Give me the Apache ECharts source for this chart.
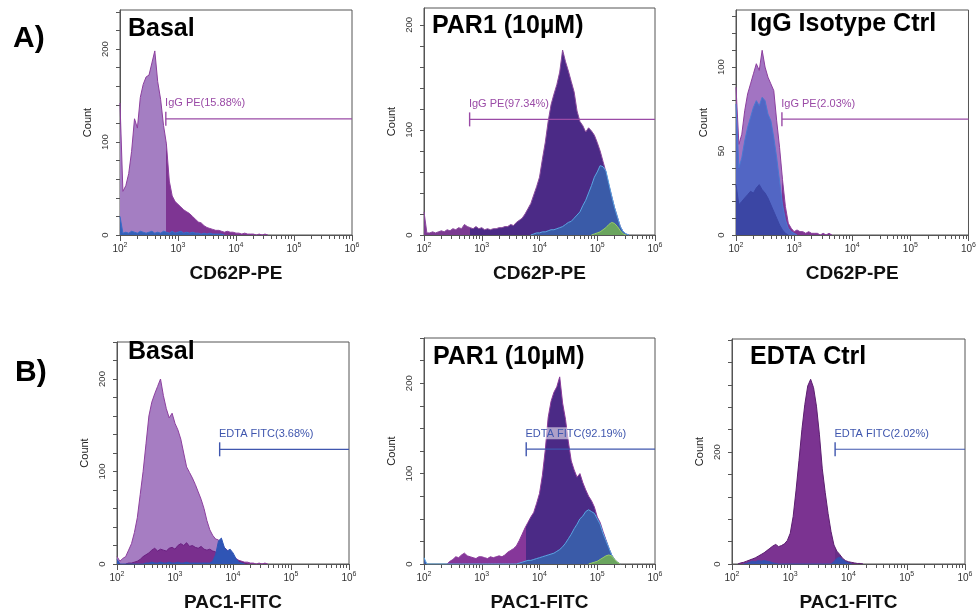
<!DOCTYPE html>
<html><head><meta charset="utf-8">
<script src="https://cdn.jsdelivr.net/npm/echarts@6/dist/echarts.min.js"></script>
<style>html,body{margin:0;padding:0;background:#fff}#c{width:979px;height:613px}</style>
</head><body><div id="c"></div>
<script>
// ---------- channel grid (log10 of fluorescence) ----------
const channels = [
 2.00,2.05,2.10,2.15,2.20,2.25,2.30,2.35,2.40,2.45,
 2.50,2.55,2.60,2.65,2.70,2.75,2.80,2.85,2.90,2.95,
 3.00,3.05,3.10,3.15,3.20,3.25,3.30,3.35,3.40,3.45,
 3.50,3.55,3.60,3.65,3.70,3.75,3.80,3.85,3.90,3.95,
 4.00,4.05,4.10,4.15,4.20,4.25,4.30,4.35,4.40,4.45,
 4.50,4.55,4.60,4.65,4.70,4.75,4.80,4.85,4.90,4.95,
 5.00,5.05,5.10,5.15,5.20,5.25,5.30,5.35,5.40,5.45,
 5.50,5.55,5.60,5.65,5.70,5.75,5.80,5.85,5.90,5.95,
 6.00];
const decades = [2,3,4,5,6];
const minorMultipliers = [2,3,4,5,6,7,8,9];

// ---------- A) CD62P-PE ----------
const a1Basal = [
 142,47,53,66,90,125,115,148,162,170,
 172,185,198,165,146,118,98,58,42,36,
 33,30,27,25,23,20,17,14,13,10,
 8,7,6,5,5,4,3,4,3,3,
 2,2,1,2,1,1,1,0,1,0,
 1,0];
const a1Blue = [
 20,2,3,2,4,3,2,4,3,2,
 3,4,2,3,2,4,3,2,4,2,
 3,4,2,3,2,3,2,2,1,2,
 1,2,1,1,1,1,0];
const a2Par1 = [
 22,2,2,3,2,3,4,3,5,4,
 6,5,7,6,10,8,7,6,8,6,
 7,5,6,5,6,6,7,7,8,8,
 10,9,12,14,16,20,25,30,38,46,
 55,72,88,108,124,134,143,155,176,165,
 156,146,136,118,108,104,98,102,99,95,
 88,80,70,60,48,37,26,17,8,3,
 1,0];
const a2Blue = [
 0,0,0,0,0,0,0,0,0,0,
 0,0,0,0,0,0,0,0,0,0,
 0,0,0,0,0,0,0,0,0,0,
 0,0,0,0,0,0,0,0,1,2,
 2,3,3,4,5,5,6,7,8,10,
 12,13,16,19,22,28,33,40,47,55,
 60,66,65,61,49,37,26,17,8,3,
 1,0];
const a2Green = [
 0,0,0,0,0,0,0,0,0,0,
 0,0,0,0,0,0,0,0,0,0,
 0,0,0,0,0,0,0,0,0,0,
 0,0,0,0,0,0,0,0,0,0,
 0,0,0,0,0,0,0,0,0,0,
 0,0,0,0,0,0,0,0,0,1,
 2,3,5,7,10,12,11,8,4,1,
 0];
const a3Iso = [
 88,54,60,74,84,90,96,102,98,110,
 100,94,90,86,68,52,33,17,7,4,
 2,3,2,2,1,2,1,1,1,0,
 1,0,1,0];
const a3Blue = [
 78,40,46,56,64,70,76,80,77,82,
 80,72,68,58,46,32,18,9,4,2,
 1,0];
const a3DarkBlue = [
 30,18,20,22,24,26,25,28,30,27,
 25,22,18,14,10,6,3,1,0];

// ---------- B) PAC1-FITC ----------
const b1Basal = [
 8,3,6,8,15,22,34,50,75,100,
 130,160,175,184,192,200,182,168,158,163,
 152,145,135,120,105,99,93,86,78,70,
 60,47,37,31,27,26,22,18,15,12,
 9,6,4,3,2,2,1,1,0,1,
 0,1,0];
const b1Dark = [
 0,0,0,0,1,1,2,3,5,8,
 10,12,15,17,14,16,15,14,17,18,
 16,20,22,20,23,19,20,18,17,19,
 16,15,16,14,13,12,11,10,9,8,
 7,5,3,2,1,0];
const b1Blue = [
 5,0,0,0,0,0,0,0,0,0,
 1,1,2,1,1,2,1,1,2,1,
 1,2,1,1,2,1,1,1,1,1,
 1,1,1,3,10,25,28,18,14,16,
 12,6,2,1,0];
const b2Par1 = [
 0,0,0,0,0,0,0,0,0,3,
 5,8,7,10,12,9,8,7,6,8,
 8,7,6,8,7,8,9,8,10,13,
 15,17,20,26,33,40,46,52,57,67,
 78,98,126,162,180,190,196,207,178,160,
 135,114,104,96,100,90,82,75,70,63,
 52,46,36,27,18,10,5,2,0];
const b2Blue = [
 7,0,0,0,0,0,0,0,0,0,
 0,0,0,0,0,0,0,0,0,0,
 0,0,0,0,0,0,0,0,0,0,
 0,0,0,1,2,3,4,4,5,6,
 7,8,9,10,11,12,14,16,19,23,
 28,33,39,44,50,53,58,60,58,56,
 50,44,34,26,18,10,5,2,0];
const b2Green = [
 0,0,0,0,0,0,0,0,0,0,
 0,0,0,0,0,0,0,0,0,0,
 0,0,0,0,0,0,0,0,0,0,
 0,0,0,0,0,0,0,0,0,0,
 0,0,0,0,0,0,0,0,0,0,
 0,0,0,0,0,0,0,0,1,2,
 3,5,7,9,10,9,5,2,0];
const b3Edta = [
 0,0,0,2,3,5,7,9,11,14,
 17,20,24,28,32,35,31,33,36,42,
 55,85,132,185,240,285,318,330,315,282,
 232,170,128,90,58,34,23,17,10,6,
 4,3,2,1,1,0];
const b3Blue = [
 0,0,0,0,0,1,3,5,4,6,
 5,6,5,4,2,1,0,0,0,0,
 0,0,0,0,0,0,0,0,0,0,
 0,0,0,0,0,4,10,12,8,4,
 2,0];

// ---------- axis labels / titles / gates ----------
const yLabelsA1 = [0,100,200], yLabelsA2 = [0,100,200], yLabelsA3 = [0,50,100];
const yLabelsB1 = [0,100,200], yLabelsB2 = [0,100,200], yLabelsB3 = [0,200];
const panelTitles = ['Basal','PAR1 (10µM)','IgG Isotype Ctrl','Basal','PAR1 (10µM)','EDTA Ctrl'];
const rowLabels = ['A)','B)'];
const xNames = ['CD62P-PE','PAC1-FITC'];
const gateTexts = ['IgG PE(15.88%)','IgG PE(97.34%)','IgG PE(2.03%)','EDTA FITC(3.68%)','EDTA FITC(92.19%)','EDTA FITC(2.02%)'];
const gateStart = [2.79,2.79,2.79,3.77,3.77,3.77];
const gateLevel = [125,110,69,124,127,205];

// ---------- layout & style ----------
const FF = '"Liberation Sans", Arial, Helvetica, sans-serif';
const PA = '#9a4aa6', PB = '#3f56ae';
const panels = [
 {grid:{left:120,top:10,width:232,height:225}, ymax:242, ystep:20, ylab:yLabelsA1, xname:xNames[0], gc:PA,
  layers:[{d:a1Basal, split:['#a47ec2','#7e3593'], line:'#8c3f9e'},{d:a1Blue, fill:'#3560b8', line:'#3a6cc8'}]},
 {grid:{left:424,top:8,width:231,height:227}, ymax:216, ystep:20, ylab:yLabelsA2, xname:xNames[0], gc:PA,
  layers:[{d:a2Par1, split:['#7c3a92','#4b2a86'], line:'#8a4a9c'},{d:a2Blue, fill:'#3a5ba8', line:'#5aa6e2'},{d:a2Green, fill:'#6aa55e', line:'#98cc66'}]},
 {grid:{left:736,top:10,width:233,height:225}, ymax:134, ystep:10, ylab:yLabelsA3, xname:xNames[0], gc:PA,
  layers:[{d:a3Iso, split:['#a274c2','#7e3593'], line:'#8c3f9e'},{d:a3Blue, fill:'#5266c4', line:'#4a78d0'},{d:a3DarkBlue, fill:'#3b46a4', line:'#3b46a4'}]},
 {grid:{left:117,top:342,width:232,height:222}, ymax:240, ystep:20, ylab:yLabelsB1, xname:xNames[1], gc:PB,
  layers:[{d:b1Basal, split:['#a67dc2','#7a2f8e'], line:'#8c3f9e'},{d:b1Dark, fill:'#7a2f8e', line:'#6a2080'},{d:b1Blue, fill:'#2f55b5', line:'#2f55b5'}]},
 {grid:{left:424,top:338,width:231,height:226}, ymax:250, ystep:25, ylab:yLabelsB2, xname:xNames[1], gc:PB,
  layers:[{d:b2Par1, split:['#86379a','#4b2a86'], line:'#8a3a9a'},{d:b2Blue, fill:'#3a5ba8', line:'#5aa6e2'},{d:b2Green, fill:'#6aa55e', line:'#98cc66'}]},
 {grid:{left:732,top:339,width:233,height:227}, ymax:402, ystep:40, ylab:yLabelsB3, xname:xNames[1], gc:PB,
  layers:[{d:b3Edta, split:['#7b3391','#6a2e88'], line:'#5c1e70'},{d:b3Blue, fill:'#3550b0', line:'#3550b0'}]}
];
const titlePos = [[128,29],[432,26.5],[750,24],[128,352],[433,357.5],[750,357]];
const rowPos = [[13,39],[15,373]];

function toPoints(counts){
  let first = counts.findIndex(v => v > 0), last = -1;
  for (let i = counts.length-1; i >= 0; i--) if (counts[i] > 0) { last = i; break; }
  const s = Math.max(0, first-1), e = Math.min(channels.length-1, last+1);
  const out = [];
  for (let i = s; i <= e; i++) out.push([channels[i], counts[i] == null ? 0 : counts[i]]);
  return out;
}
const minorTicks = [];
decades.slice(0,-1).forEach(d => minorMultipliers.forEach(m => minorTicks.push(d + Math.log10(m))));

const grids = [], xAxes = [], yAxes = [], series = [], visualMaps = [];
panels.forEach((p, gi) => {
  grids.push(Object.assign({show:true, borderColor:'#555', borderWidth:1, containLabel:false}, p.grid));
  xAxes.push({type:'value', gridIndex:gi, min:2, max:6, position:'bottom',
    axisLine:{show:true, lineStyle:{color:'#555'}},
    axisTick:{show:true, length:6, customValues:decades, lineStyle:{color:'#555'}},
    axisLabel:{customValues:decades, margin:7, formatter:v => '{b|10}{s|' + v + '}',
      rich:{b:{fontSize:10, color:'#333', fontFamily:FF, lineHeight:15}, s:{fontSize:7, color:'#333', fontFamily:FF, verticalAlign:'top'}}},
    splitLine:{show:false},
    name:p.xname, nameLocation:'middle', nameGap:29,
    nameTextStyle:{fontSize:19, fontWeight:'bold', color:'#111', fontFamily:FF}});
  xAxes.push({type:'value', gridIndex:gi, min:2, max:6, position:'bottom',
    axisLine:{show:false}, axisLabel:{show:false}, splitLine:{show:false},
    axisTick:{show:true, length:4, customValues:minorTicks, lineStyle:{color:'#555'}}});
  const yt = []; for (let v = 0; v <= p.ymax; v += p.ystep) yt.push(v);
  yAxes.push({type:'value', gridIndex:gi, min:0, max:p.ymax,
    axisLine:{show:true, lineStyle:{color:'#555'}},
    axisTick:{show:true, length:4, customValues:yt, lineStyle:{color:'#555'}},
    axisLabel:{customValues:p.ylab, rotate:90, fontSize:9.5, margin:10, color:'#333', fontFamily:FF},
    splitLine:{show:false},
    name:'Count', nameLocation:'middle', nameGap:27, nameRotate:90,
    nameTextStyle:{fontSize:11, color:'#222', fontFamily:FF}});
  p.layers.forEach((L, k) => {
    const s = {type:'line', xAxisIndex:2*gi, yAxisIndex:gi, data:toPoints(L.d),
      symbol:'none', showSymbol:false, silent:true, animation:false, z:2+k,
      lineStyle:{color:L.line, width:1}, areaStyle:{opacity:1}};
    if (L.split) {
      visualMaps.push({type:'piecewise', show:false, dimension:0, seriesIndex:series.length,
        pieces:[{gte:2, lt:gateStart[gi], color:L.split[0]}, {gte:gateStart[gi], lte:6, color:L.split[1]}],
        outOfRange:{color:L.split[1]}});
    } else {
      s.areaStyle.color = L.fill;
    }
    series.push(s);
  });
  series.push({type:'line', xAxisIndex:2*gi, yAxisIndex:gi, silent:true, animation:false, z:20,
    symbol:'rect', symbolSize:[1.4,14], showSymbol:true,
    lineStyle:{color:p.gc, width:1.2}, itemStyle:{color:p.gc},
    data:[{value:[gateStart[gi], gateLevel[gi]],
           label:{show:true, formatter:gateTexts[gi], position:[0,-15], align:'left', verticalAlign:'top',
                  color:p.gc, fontSize:11, fontFamily:FF, backgroundColor:'rgba(255,255,255,0.55)', padding:[1,1,0,0]}},
          {value:[6, gateLevel[gi]], symbol:'none'}]});
});

const graphics = [];
panelTitles.forEach((t, i) => graphics.push({type:'text', x:titlePos[i][0], y:titlePos[i][1], z:100,
  style:{text:t, font:'bold 25px ' + FF, fill:'#000', align:'left', verticalAlign:'middle', textAlign:'left', textVerticalAlign:'middle'}}));
rowLabels.forEach((t, i) => graphics.push({type:'text', x:rowPos[i][0], y:rowPos[i][1], z:100,
  style:{text:t, font:'bold 30px ' + FF, fill:'#000', align:'left', verticalAlign:'middle', textAlign:'left', textVerticalAlign:'middle'}}));

const chart = echarts.init(document.getElementById('c'), null, {renderer:'canvas'});
chart.setOption({animation:false, backgroundColor:'#fff', grid:grids, xAxis:xAxes, yAxis:yAxes,
  visualMap:visualMaps, series:series, graphic:graphics});
</script></body></html>
